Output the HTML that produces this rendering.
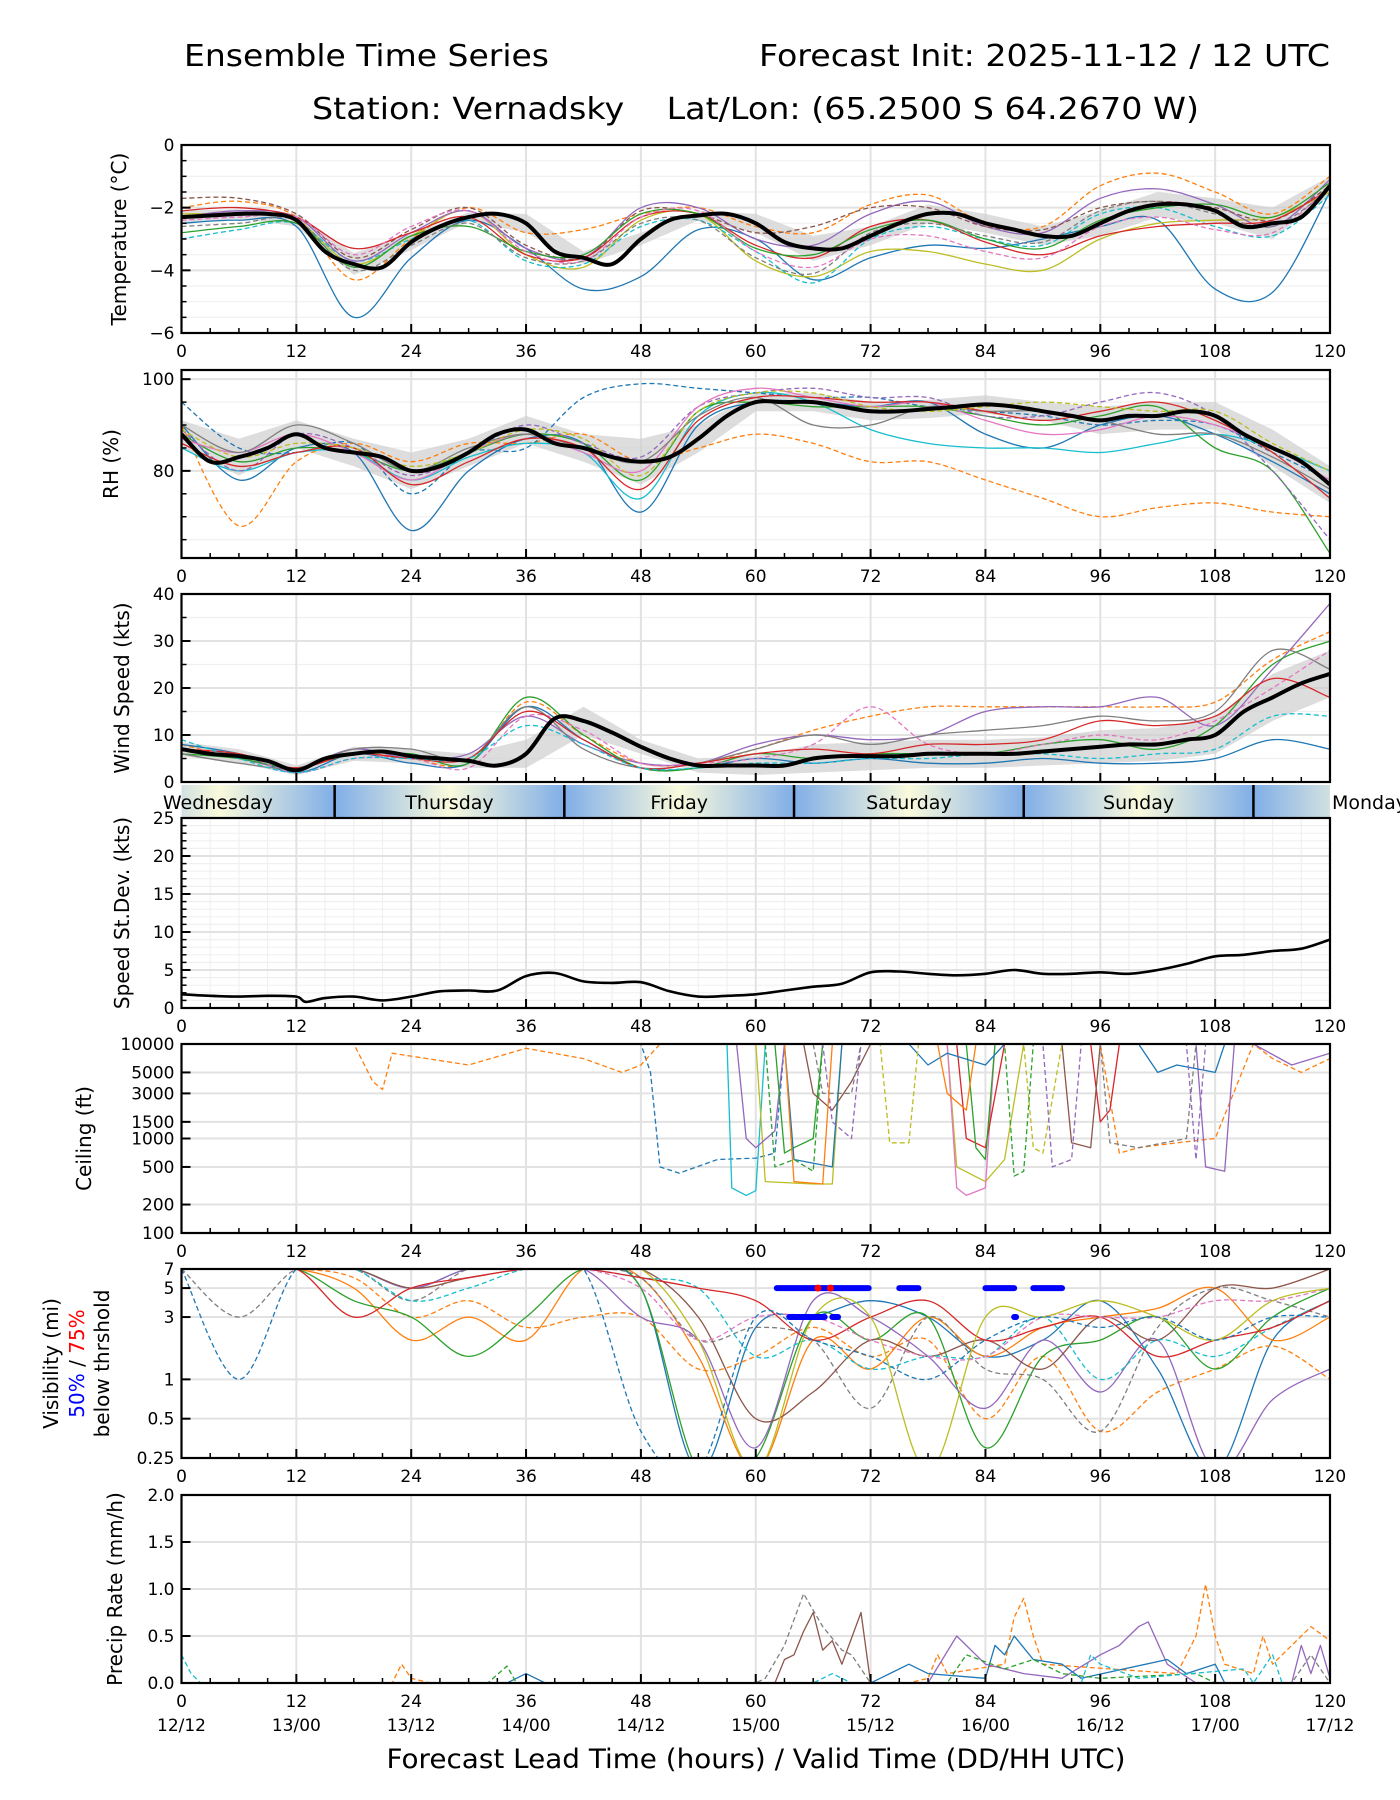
<!DOCTYPE html>
<html><head><meta charset="utf-8"><style>
body{margin:0;background:#fff}
svg{display:block;font-family:"DejaVu Sans","Liberation Sans",sans-serif}
</style></head><body>
<svg id="chart" xmlns="http://www.w3.org/2000/svg" width="1400" height="1800" viewBox="0 0 1400 1800">
<defs>
<linearGradient id="dayg" x1="0" x2="1" y1="0" y2="0">
<stop offset="0" stop-color="#80aee8"/><stop offset="0.5" stop-color="#fafadc"/><stop offset="1" stop-color="#80aee8"/>
</linearGradient>
</defs>
<text x="184" y="66" font-size="30" textLength="365" lengthAdjust="spacingAndGlyphs">Ensemble Time Series</text>
<text x="759" y="66" font-size="30" textLength="571" lengthAdjust="spacingAndGlyphs">Forecast Init: 2025-11-12 / 12 UTC</text>
<text x="312" y="119" font-size="30" textLength="887" lengthAdjust="spacingAndGlyphs" xml:space="preserve">Station: Vernadsky    Lat/Lon: (65.2500 S 64.2670 W)</text>
<text x="756" y="1768" font-size="27" text-anchor="middle" textLength="739" lengthAdjust="spacingAndGlyphs">Forecast Lead Time (hours) / Valid Time (DD/HH UTC)</text>
</svg>
<script>
const hours3 = Array.from({length:41},(_, i)=>i*3);
const hours6 = Array.from({length:21},(_, i)=>i*6);
const xTicks = [0,12,24,36,48,60,72,84,96,108,120];
const dateLabels = ["12/12","13/00","13/12","14/00","14/12","15/00","15/12","16/00","16/12","17/00","17/12"];
const days = ["Wednesday","Thursday","Friday","Saturday","Sunday","Monday"];
const dayBounds = [16,40,64,88,112];

const tempMean = [-2.3,-2.25,-2.2,-2.2,-2.4,-3.4,-3.8,-3.9,-3.1,-2.6,-2.3,-2.2,-2.5,-3.4,-3.6,-3.8,-3.0,-2.4,-2.25,-2.2,-2.5,-3.1,-3.3,-3.3,-2.9,-2.5,-2.2,-2.2,-2.5,-2.7,-2.9,-2.9,-2.5,-2.1,-1.9,-1.9,-2.1,-2.6,-2.5,-2.3,-1.3];
const tempSpread = [0.2,0.15,0.2,0.35,0.25,0.15,0.3,0.2,0.2,0.15,0.3,0.4,0.3,0.3,0.3,0.3,0.4,0.4,0.4,0.5,0.3];
const tempM1 = [-2.5,-2.4,-2.6,-5.5,-3.6,-2.4,-3.3,-4.6,-4.2,-2.7,-3.0,-4.3,-3.6,-3.2,-3.3,-3.0,-2.6,-2.4,-4.6,-4.7,-1.5];
const tempM2 = [-2.0,-1.8,-2.3,-4.3,-3.0,-2.0,-2.8,-2.7,-2.2,-2.0,-2.6,-2.8,-1.9,-1.6,-2.5,-2.6,-1.3,-0.9,-1.5,-2.2,-1.0];
const tempM3 = [-2.2,-2.2,-2.4,-3.8,-2.9,-2.1,-3.5,-3.9,-2.4,-2.2,-3.7,-4.2,-3.4,-3.4,-3.8,-4.0,-3.0,-2.5,-2.4,-2.3,-1.5];
const tempM4 = [-3.0,-2.7,-2.5,-3.7,-3.0,-2.4,-3.7,-3.8,-2.6,-2.4,-3.4,-4.4,-3.0,-2.6,-3.0,-3.2,-2.2,-2.0,-2.6,-2.9,-1.6];
const tempM5 = [-2.3,-2.1,-2.3,-3.7,-2.8,-2.1,-3.3,-3.6,-2.0,-2.0,-3.0,-3.2,-2.2,-1.8,-2.6,-2.8,-1.7,-1.4,-1.9,-2.6,-1.1];
const tempM6 = [-1.7,-1.7,-2.2,-3.6,-2.7,-2.0,-3.2,-3.6,-2.1,-2.2,-2.8,-2.6,-2.0,-2.0,-2.6,-2.7,-2.0,-1.8,-2.0,-2.4,-1.3];
const tempM7 = [-2.1,-2.0,-2.3,-3.3,-2.8,-2.3,-3.5,-3.6,-2.3,-2.2,-3.2,-3.6,-2.6,-2.4,-3.1,-3.5,-2.9,-2.6,-2.5,-2.4,-1.4];
const tempM8 = [-2.8,-2.6,-2.5,-3.9,-2.9,-2.6,-3.4,-3.5,-2.2,-2.2,-3.3,-3.5,-2.7,-2.4,-3.0,-3.3,-2.4,-2.0,-1.9,-2.3,-1.2];
const tempM9 = [-2.4,-2.3,-2.3,-3.5,-2.6,-2.1,-3.4,-3.7,-2.3,-2.1,-3.4,-3.9,-3.0,-2.9,-3.4,-3.6,-2.6,-2.3,-2.7,-2.8,-1.3];
const tempM10 = [-2.6,-2.5,-2.4,-4.0,-3.2,-2.5,-3.6,-3.7,-2.5,-2.4,-3.6,-4.1,-2.8,-2.5,-2.9,-3.1,-2.1,-1.8,-2.2,-2.6,-1.4];

const rhMean = [88,82,83,85,88,85,84,83,80,81,84,88,89,86,85,83,82,83,87,92,95,95,95,94,93,93,93.5,94,94.5,94,93,92,91,92,92,93,92,88,85,82,77];
const rhSpread = [3,4,3,3,4,3,3,3,5,3,2,2,2,2,2,2,3,3,3,4,4];
const rhM1 = [90,78,85,84,67,80,87,86,71,90,95,95,94,95,88,85,90,92,88,82,75];
const rhM2 = [90,68,82,86,82,86,86,88,82,85,88,86,82,82,78,74,70,72,73,71,70];
const rhM3 = [95,85,84,86,75,84,85,96,99,98,97,96,96,94,93,92,90,91,90,84,78];
const rhM4 = [85,80,84,84,78,83,86,84,74,92,97,95,89,86,85,85,84,86,88,85,80];
const rhM5 = [88,82,85,84,80,84,88,86,78,93,95,94,94,94,92,90,92,94,85,80,62];
const rhM6 = [89,80,88,85,79,84,90,86,83,94,97,98,96,96,92,92,95,97,92,80,65];
const rhM7 = [87,84,88,84,78,84,88,84,80,94,98,96,94,95,91,88,89,92,90,85,78];
const rhM8 = [90,84,90,86,80,85,88,85,82,92,96,90,90,94,93,93,91,88,88,83,76];
const rhM9 = [86,81,84,85,77,82,87,85,76,91,96,96,95,95,93,91,93,95,91,84,74];
const rhM10 = [89,83,86,85,81,84,89,87,79,93,97,97,94,93,94,95,94,93,93,86,80];

const windMean = [7,6,5.5,4.5,2.5,5,6,6.5,5.5,5,4.5,3.5,6,13.5,13,10.5,7.5,5,3.5,3.5,3.5,3.5,5,5.5,5.5,5.5,6,6,6,6,6.5,7,7.5,8,8,9,10,15,18,21,23];
const windSpread = [1.5,1.5,1,1.5,1.5,1.5,3,3,1.5,1.5,2,3,3,3,3,3,3.5,3.5,4,5,5];
const windM1 = [8,5,3,6,5,4,17,10,4,4,7,11,14,16,16,16,16,16,17,26,32];
const windM2 = [7,5,3,7,5,6,14,8,4,4,8,10,9,10,15,16,16,18,12,24,38];
const windM3 = [8,6,2,6,4,4,16,9,3,3,5,4,5,4,4,5,4,4,5,9,7];
const windM4 = [6,5,3,6,6,4,18,10,3,3,6,5,6,6,6,8,9,7,12,25,30];
const windM5 = [7,6,2,5,5,3,14,11,4,4,5,8,16,8,6,8,10,9,13,20,28];
const windM6 = [6,4,3,7,7,5,16,7,3,4,7,10,8,10,11,12,14,13,15,28,24];
const windM7 = [7,6,3,6,5,5,15,9,3,4,6,7,6,8,8,9,13,12,14,22,18];
const windM8 = [9,5,2,5,5,5,12,8,3,3,4,4,5,5,6,6,5,6,7,14,14];

const sdHours = [0,3,6,9,12,13,15,18,21,24,27,30,33,36,39,42,45,48,51,54,57,60,63,66,69,72,75,78,81,84,87,90,93,96,99,102,105,108,111,114,117,120];
const sdValues = [1.8,1.6,1.5,1.6,1.5,0.8,1.3,1.5,1.0,1.5,2.2,2.3,2.3,4.2,4.6,3.5,3.3,3.4,2.2,1.5,1.6,1.8,2.3,2.8,3.2,4.7,4.8,4.5,4.3,4.5,5.0,4.5,4.5,4.7,4.5,5.0,5.8,6.8,7.0,7.5,7.8,9.0];

const ceilM1 = [[0,10000],[48,10000],[49,5000],[50,500],[52,430],[56,600],[60,620],[62,700],[63,10000],[120,10000]];
const ceilM2 = [[0,10000],[18,10000],[20,4000],[21,3300],[22,8000],[30,6000],[36,9000],[42,7000],[46,5000],[48,6000],[50,10000],[96,10000],[98,700],[100,800],[104,900],[108,1000],[112,10000],[114,7000],[117,5000],[120,7000]];
const ceilM3 = [[0,10000],[57,10000],[57.5,300],[59,250],[60,280],[61,10000],[120,10000]];
const ceilM4 = [[0,10000],[60,10000],[61,350],[66,330],[68,330],[69,10000],[80,10000],[81,500],[84,350],[86,600],[88,10000],[120,10000]];
const ceilM5 = [[0,10000],[80,10000],[81,300],[82,250],[84,300],[85,10000],[120,10000]];
const ceilM6 = [[0,10000],[58,10000],[59,1000],[60,800],[62,1200],[63,10000],[106,10000],[107,500],[109,450],[110,10000],[112,10000],[116,6000],[120,8000]];
const ceilM7 = [[0,10000],[81,10000],[82,1000],[84,800],[86,10000],[95,10000],[96,1500],[97,2000],[98,10000],[120,10000]];
const ceilM8 = [[0,10000],[62,10000],[63,700],[64,800],[66,1000],[67,10000],[82,10000],[83,800],[84,600],[85,10000],[120,10000]];
const ceilM9 = [[0,10000],[65,10000],[66,3000],[68,2000],[70,4000],[72,10000],[92,10000],[93,900],[95,800],[96,10000],[120,10000]];
const ceilM10 = [[0,10000],[66,10000],[67,3000],[70,3000],[71,10000],[96,10000],[97,900],[100,800],[105,1000],[106,10000],[120,10000]];
const ceilM11 = [[0,10000],[63,10000],[64,600],[68,500],[69,10000],[76,10000],[78,6000],[80,8000],[84,6000],[86,10000],[100,10000],[102,5000],[104,6000],[108,5000],[109,10000],[120,10000]];
const ceilM12 = [[0,10000],[73,10000],[74,900],[76,900],[77,10000],[88,10000],[89,800],[90,700],[92,10000],[120,10000]];
const ceilM13 = [[0,10000],[61,10000],[62,500],[64,600],[66,450],[67,10000],[86,10000],[87,400],[88,450],[89,10000],[120,10000]];
const ceilM14 = [[0,10000],[67,10000],[68,1500],[70,1000],[71,10000],[90,10000],[91,500],[93,600],[94,10000],[105,10000],[106,600],[107,10000],[120,10000]];
const ceilM15 = [[0,10000],[63,10000],[64,350],[67,330],[68,10000],[79,10000],[80,3000],[82,2000],[83,10000],[120,10000]];

const visM1 = [7,7,7,7,5,7,7,7,5,0.2,2.5,3,4,3,1.5,2,4,1.2,0.2,2,4];
const visM2 = [7,7,7,5,2,3,2,7,6,1.5,0.2,2,1.2,3,1.5,2.5,3,3.5,5,2,3];
const visM3 = [7,7,7,6,3,4,2.5,3,3,1.2,1.5,2.5,1.5,2,0.5,1.5,0.4,0.8,1.2,1.8,1];
const visM4 = [7,7,7,4,3,1.5,3,7,5,0.2,0.25,3,2,3,0.3,1.5,2,3,1.2,3,5];
const visM5 = [7,7,7,7,5,7,7,7,3,2,0.3,4,3,1.5,0.6,2,0.8,2,0.2,0.7,1.2];
const visM6 = [7,3,7,7,4,7,7,7,6,2,2.5,2,0.6,3,1.2,1,0.4,2.5,5,4,3];
const visM7 = [7,7,7,7,5,6,7,7,7,3,0.5,0.8,2,1.5,2,1.2,3,2,5,5,7];
const visM8 = [7,7,7,7,4,5,7,7,6,5,1.5,2,1.2,1.5,1.5,3,1,2,1.5,2.5,4];
const visM9 = [7,7,7,3,5,6,7,7,6,5,4,2,3,4,2,2.5,3,1.5,2,2.5,4];
const visM10 = [7,7,7,7,7,7,7,7,5,2,3,3,2,1.5,1.5,3,3,3,4,4,5];
const visM11 = [7,7,7,7,7,7,7,7,7,2,0.2,3,3,0.2,3,3,4,3,2,4,5];
const visM12 = [7,1,7,7,7,7,7,7,0.4,0.2,3,2,1.5,1,2,3,2.5,3,2,3,3];
const vis50Segs = [[62.2,71.8],[75,77],[84,87],[89,92]];
const vis75Segs = [[63.5,67.2],[68,68.6],[87,87.2]];
const vis75RedDots = [66.5,67.8];

const precM1 = [[0,0],[60,0],[61,0.05],[63,0.4],[65,0.95],[67,0.6],[69,0.35],[70,0.3],[72,0],[116,0],[118,0.3],[120,0]];
const precM2 = [[0,0],[62,0],[63,0.25],[64,0.3],[65,0.55],[66,0.75],[67,0.35],[68,0.45],[69,0.2],[71,0.75],[72,0],[120,0]];
const precM3 = [[0,0],[22,0],[23,0.2],[24,0.05],[26,0],[76,0],[78,0.05],[79,0.3],[80,0.1],[86,0.2],[87,0.7],[88,0.9],[89,0.5],[90,0.2],[104,0.1],[106,0.5],[107,1.05],[108,0.5],[109,0.2],[112,0.1],[113,0.5],[114,0.2],[117,0.5],[118,0.6],[120,0.45]];
const precM4 = [[0,0],[78,0],[81,0.5],[84,0.2],[88,0.1],[92,0.05],[96,0.3],[98,0.4],[100,0.6],[101,0.65],[103,0.2],[106,0],[116,0],[117,0.4],[118,0.1],[119,0.4],[120,0.05]];
const precM5 = [[0,0],[34,0],[36,0.1],[38,0],[72,0],[73,0.05],[76,0.2],[78,0.1],[84,0.05],[85,0.4],[86,0.3],[87,0.5],[89,0.25],[92,0.2],[94,0.05],[103,0.25],[105,0.1],[108,0.2],[109,0],[120,0]];
const precM6 = [[0,0],[32,0],[34,0.18],[35,0],[80,0],[82,0.3],[86,0.15],[89,0.25],[92,0.1],[96,0.05],[106,0.1],[108,0],[120,0]];
const precM7 = [[0,0.3],[1,0.1],[2,0],[66,0],[68,0.1],[70,0],[94,0],[95,0.3],[96,0.2],[100,0.05],[111,0.15],[112,0],[114,0.3],[115,0],[120,0]];

const C = {blue:"#1f77b4",orange:"#ff7f0e",green:"#2ca02c",red:"#d62728",purple:"#9467bd",brown:"#8c564b",pink:"#e377c2",gray:"#7f7f7f",olive:"#bcbd22",cyan:"#17becf"};
const NS="http://www.w3.org/2000/svg";
const svg=document.getElementById('chart');
const X0=181.5,X1=1330;
function xs(h){return X0+(h/120)*(X1-X0);}
function el(tag,attrs,parent){const e=document.createElementNS(NS,tag);for(const k in attrs)e.setAttribute(k,attrs[k]);(parent||svg).appendChild(e);return e;}

function makePanel(p){
  const g=el('g',{});
  
  
  p.g=g;
  p.ys=function(v){
    if(p.log){const a=Math.log10(p.min),b=Math.log10(p.max);const t=(Math.log10(Math.max(v,p.min*0.5))-a)/(b-a);return p.bottom-t*(p.bottom-p.top);}
    return p.bottom-(v-p.min)/(p.max-p.min)*(p.bottom-p.top);
  };
  const clipId='clip-'+p.name;
  const cp=el('clipPath',{id:clipId},g);el('rect',{x:X0,y:p.top,width:X1-X0,height:p.bottom-p.top},cp);
  (p.minorY||[]).forEach(v=>{const y=p.ys(v);el('line',{x1:X0,x2:X1,y1:y,y2:y,stroke:'#f0f0f0','stroke-width':1.2},g);});
  if(p.minorX){for(let h=3;h<120;h+=3){if(h%12)el('line',{x1:xs(h),x2:xs(h),y1:p.top,y2:p.bottom,stroke:'#f0f0f0','stroke-width':1.2},g);}}
  xTicks.forEach(h=>{el('line',{x1:xs(h),x2:xs(h),y1:p.top,y2:p.bottom,stroke:'#e2e2e2','stroke-width':2},g);});
  p.ticks.forEach(v=>{const y=p.ys(v);el('line',{x1:X0,x2:X1,y1:y,y2:y,stroke:'#e2e2e2','stroke-width':2},g);});
  p.data=el('g',{'clip-path':'url(#'+clipId+')'},g);
  
  
  return p;
}
function finishPanel(p){
  const g=p.g;
  for(let h=0;h<=120;h+=3){const major=h%12===0;const l=major?9:5;el('line',{x1:xs(h),x2:xs(h),y1:p.bottom,y2:p.bottom-l,stroke:'#000','stroke-width':major?2:1.5},g);}
  p.ticks.forEach(v=>{const y=p.ys(v);el('line',{x1:X0,x2:X0+9,y1:y,y2:y,stroke:'#000','stroke-width':2},g);});
  (p.minorY||[]).forEach(v=>{const y=p.ys(v);el('line',{x1:X0,x2:X0+5,y1:y,y2:y,stroke:'#000','stroke-width':1.5},g);});
  el('rect',{x:X0,y:p.top,width:X1-X0,height:p.bottom-p.top,fill:'none',stroke:'#000','stroke-width':2.2},g);
  p.ticks.forEach((v,i)=>{const t=el('text',{x:X0-7,y:p.ys(v)+6,'font-size':17,'text-anchor':'end'},g);t.textContent=p.tickLabels[i];
    
    });
  if(p.xlabels){xTicks.forEach((h,i)=>{const t=el('text',{x:xs(h),y:p.bottom+24,'font-size':17,'text-anchor':'middle'},g);t.textContent=String(h);
    
    
    if(p.dates){const d=el('text',{x:xs(h),y:p.bottom+48,'font-size':17,'text-anchor':'middle'},g);d.textContent=dateLabels[i];
      
      }});}
  (p.ylabel||[]).forEach(l=>{const cy=(p.top+p.bottom)/2;const t=el('text',{x:l.x,y:cy,'font-size':20,'text-anchor':'middle',transform:'rotate(-90 '+l.x+' '+cy+')'},g);
    
    
    l.parts.forEach(pp=>{const s=el('tspan',{fill:pp.c||'#000'},t);s.textContent=pp.t;});});
}
function smoothPath(pts){
  let d='M'+pts[0][0].toFixed(1)+','+pts[0][1].toFixed(1);
  for(let i=0;i<pts.length-1;i++){
    const p0=pts[i-1]||pts[i],p1=pts[i],p2=pts[i+1],p3=pts[i+2]||p2;
    const c1=[p1[0]+(p2[0]-p0[0])/6,p1[1]+(p2[1]-p0[1])/6];
    const c2=[p2[0]-(p3[0]-p1[0])/6,p2[1]-(p3[1]-p1[1])/6];
    d+=' C'+c1[0].toFixed(1)+','+c1[1].toFixed(1)+' '+c2[0].toFixed(1)+','+c2[1].toFixed(1)+' '+p2[0].toFixed(1)+','+p2[1].toFixed(1);
  }
  return d;
}
function line(p,hs,vs,color,dash,w,name,smooth){
  const pts=hs.map((h,i)=>[xs(h),p.ys(vs[i])]);
  let pl;
  if(smooth){pl=el('path',{d:smoothPath(pts),fill:'none',stroke:color,'stroke-width':w||1.3,'stroke-linejoin':'round'},p.data);}
  else pl=el('polyline',{points:pts.map(q=>q[0].toFixed(1)+','+q[1].toFixed(1)).join(' '),fill:'none',stroke:color,'stroke-width':w||1.3,'stroke-linejoin':'round'},p.data);
  if(dash)pl.setAttribute('stroke-dasharray','5,3');
  
  
  return pl;
}
function pairLine(p,pairs,color,dash,name){return line(p,pairs.map(q=>q[0]),pairs.map(q=>q[1]),color,dash,1.3,name,false);}
function band(p,mean,spread){
  const up=hours6.map((h,i)=>xs(h).toFixed(1)+','+p.ys(mean[i*2]+spread[i]).toFixed(1));
  const lo=hours6.map((h,i)=>xs(h).toFixed(1)+','+p.ys(mean[i*2]-spread[i]).toFixed(1)).reverse();
  const b=el('polygon',{points:up.concat(lo).join(' '),fill:'#cfcfcf','fill-opacity':0.7},p.data);
  
  
}
function range(a,b,s){const r=[];for(let v=a;v<=b+1e-9;v+=s)r.push(+v.toFixed(3));return r;}

const pT=makePanel({name:'temperature',top:145,bottom:333,min:-6,max:0,ticks:[-6,-4,-2,0],tickLabels:['\u22126','\u22124','\u22122','0'],minorY:range(-5.5,-0.5,0.5).filter(v=>v%2!==0),xlabels:true,ylabel:[{x:126,parts:[{t:'Temperature (\u00b0C)'}]}]});
band(pT,tempMean,tempSpread);
[tempM1,tempM2,tempM3,tempM4,tempM5,tempM6,tempM7,tempM8,tempM9,tempM10].forEach((m,i)=>line(pT,hours6,m,[C.blue,C.orange,C.olive,C.cyan,C.purple,C.brown,C.red,C.green,C.pink,C.gray][i],[0,1,0,1,0,1,0,0,1,1][i],1.3,'temperature-member',true));
line(pT,hours3,tempMean,'#000',0,4,'temperature-ensemble-mean',true);
finishPanel(pT);

const pR=makePanel({name:'rh',top:370,bottom:558,min:61,max:102,ticks:[80,100],tickLabels:['80','100'],minorY:[65,70,75,85,90,95],xlabels:true,ylabel:[{x:118,parts:[{t:'RH (%)'}]}]});
band(pR,rhMean,rhSpread);
[rhM1,rhM2,rhM3,rhM4,rhM5,rhM6,rhM7,rhM8,rhM9,rhM10].forEach((m,i)=>line(pR,hours6,m,[C.blue,C.orange,C.blue,C.cyan,C.green,C.purple,C.pink,C.gray,C.red,C.olive][i],[0,1,1,0,0,1,0,0,0,1][i],1.3,'rh-member',true));
line(pR,hours3,rhMean,'#000',0,4,'rh-ensemble-mean',true);
finishPanel(pR);

const pW=makePanel({name:'wind-speed',top:594,bottom:782,min:0,max:40,ticks:[0,10,20,30,40],tickLabels:['0','10','20','30','40'],minorY:[5,15,25,35],xlabels:false,ylabel:[{x:129,parts:[{t:'Wind Speed (kts)'}]}]});
band(pW,windMean,windSpread);
[windM1,windM2,windM3,windM4,windM5,windM6,windM7,windM8].forEach((m,i)=>line(pW,hours6,m,[C.orange,C.purple,C.blue,C.green,C.pink,C.gray,C.red,C.cyan][i],[1,0,0,0,1,0,0,1][i],1.3,'wind-member',true));
line(pW,hours3,windMean,'#000',0,4,'wind-ensemble-mean',true);
finishPanel(pW);

(function(){
  const top=785,bot=818;
  const g=el('g',{});
  
  
  const cp=el('clipPath',{id:'daybarclip'},g);el('rect',{x:X0,y:top,width:X1-X0,height:bot-top},cp);
  const starts=[-8].concat(dayBounds);
  starts.forEach((s,i)=>{
    const r=el('rect',{x:xs(s),y:top,width:xs(s+24)-xs(s),height:bot-top,fill:'url(#dayg)'},g);
    r.setAttribute('clip-path','url(#daybarclip)');
    
    
  });
  dayBounds.forEach(b=>{el('line',{x1:xs(b),x2:xs(b),y1:top,y2:bot,stroke:'#000','stroke-width':2.5},g);});
  days.forEach((d,i)=>{
    let c=i===0?3.8:starts[i]+12;
    let t;
    if(i===5){t=el('text',{x:X1+2,y:top+24,'font-size':19},g);}
    else t=el('text',{x:xs(c),y:top+24,'font-size':19,'text-anchor':'middle'},g);
    t.textContent=d;
    
    
  });
})();

const pS=makePanel({name:'speed-stdev',top:818,bottom:1008,min:0,max:25,ticks:[0,5,10,15,20,25],tickLabels:['0','5','10','15','20','25'],minorY:[1,2,3,4,6,7,8,9,11,12,13,14,16,17,18,19,21,22,23,24],minorX:true,xlabels:true,ylabel:[{x:129,parts:[{t:'Speed St.Dev. (kts)'}]}]});
line(pS,sdHours,sdValues,'#000',0,2.6,'speed-stdev-line',true);
finishPanel(pS);

const pC=makePanel({name:'ceiling',top:1044,bottom:1233,min:100,max:10000,log:true,ticks:[100,200,500,1000,1500,3000,5000,10000],tickLabels:['100','200','500','1000','1500','3000','5000','10000'],xlabels:true,ylabel:[{x:91,parts:[{t:'Ceiling (ft)'}]}]});
[[ceilM1,C.blue,1],[ceilM2,C.orange,1],[ceilM3,C.cyan,0],[ceilM4,C.olive,0],[ceilM5,C.pink,0],[ceilM6,C.purple,0],[ceilM7,C.red,0],[ceilM8,C.green,0],[ceilM9,C.brown,0],[ceilM10,C.gray,1],[ceilM11,C.blue,0],[ceilM12,C.olive,1],[ceilM13,C.green,1],[ceilM14,C.purple,1],[ceilM15,C.orange,0]].forEach(m=>pairLine(pC,m[0],m[1],m[2],'ceiling-member'));
finishPanel(pC);

const pV=makePanel({name:'visibility',top:1269,bottom:1458,min:0.25,max:7,log:true,ticks:[0.25,0.5,1,3,5,7],tickLabels:['0.25','0.5','1','3','5','7'],xlabels:true,ylabel:[{x:58,parts:[{t:'Visibility (mi)'}]},{x:84,parts:[{t:'50%',c:'#0000ff'},{t:' / '},{t:'75%',c:'#ff0000'}]},{x:109,parts:[{t:'below thrshold'}]}]});
[visM1,visM2,visM3,visM4,visM5,visM6,visM7,visM8,visM9,visM10,visM11,visM12].forEach((m,i)=>line(pV,hours6,m,[C.blue,C.orange,C.orange,C.green,C.purple,C.gray,C.brown,C.cyan,C.red,C.pink,C.olive,C.blue][i],[0,0,1,0,0,1,0,1,0,1,0,1][i],1.3,'visibility-member',true));
vis50Segs.forEach(s=>{const l=el('line',{x1:xs(s[0]),x2:xs(s[1]),y1:pV.ys(5),y2:pV.ys(5),stroke:'#0000ff','stroke-width':6,'stroke-linecap':'round'},pV.data);
  
  });
vis75Segs.forEach(s=>{const l=el('line',{x1:xs(s[0]),x2:xs(s[1]),y1:pV.ys(3),y2:pV.ys(3),stroke:'#0000ff','stroke-width':6,'stroke-linecap':'round'},pV.data);
  
  });
vis75RedDots.forEach(h=>{const c=el('circle',{cx:xs(h),cy:pV.ys(5),r:3.5,fill:'#ff0000'},pV.data);
  
  });
finishPanel(pV);

const pP=makePanel({name:'precip-rate',top:1495,bottom:1683,min:0,max:2,ticks:[0,0.5,1,1.5,2],tickLabels:['0.0','0.5','1.0','1.5','2.0'],xlabels:true,dates:true,ylabel:[{x:122,parts:[{t:'Precip Rate (mm/h)'}]}]});
[[precM1,C.gray,1],[precM2,C.brown,0],[precM3,C.orange,1],[precM4,C.purple,0],[precM5,C.blue,0],[precM6,C.green,1],[precM7,C.cyan,1]].forEach(m=>pairLine(pP,m[0],m[1],m[2],'precip-member'));
finishPanel(pP);
</script>
</body></html>
